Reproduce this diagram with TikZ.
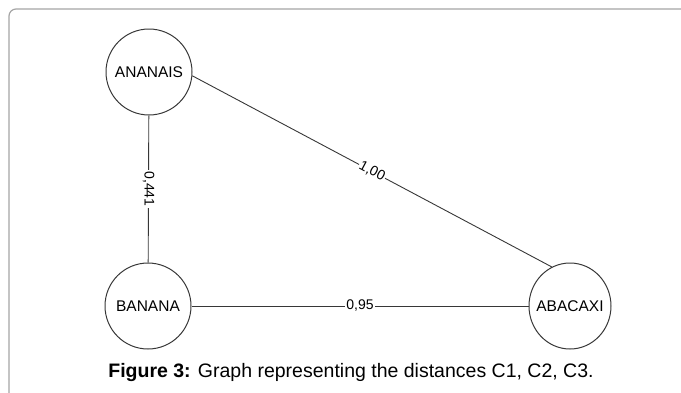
\documentclass[tikz,border=0pt]{standalone}
\usepackage{fontspec}
\setmainfont{Liberation Sans}
\usetikzlibrary{shapes.geometric}
\definecolor{framegray}{RGB}{165,165,165}
\definecolor{linegray}{RGB}{55,55,55}
\newcommand{\zw}[1]{\makebox[0pt]{#1}}
\begin{document}
\begin{tikzpicture}[x=1pt,y=-1pt,
  vertex/.style={draw=linegray,line width=1pt,ellipse,minimum width=86pt,minimum height=86pt,inner sep=0pt,font=\fontsize{15.5}{15.5}\selectfont},
  edge/.style={draw=linegray,line width=0.9pt},
  elabel/.style={fill=white,inner sep=1pt,font=\fontsize{14}{14}\selectfont}]
\useasboundingbox (0,0) rectangle (681,392);
\draw[framegray,line width=1.2pt,rounded corners=7pt] (9,420) -- (9,9) -- (700,9);
\node[vertex] (ananais) at (149,72) {\zw{ANANAIS}};
\node[vertex] (banana) at (148,306) {\zw{BANANA}};
\node[vertex,minimum width=82pt] (abacaxi) at (570,306) {\zw{ABACAXI}};
\draw[edge] (ananais) -- node[elabel,rotate=-90] {0,441} (banana);
\draw[edge] (ananais.-5) -- node[elabel,sloped] {1,00} (abacaxi.115);
\draw[edge] (banana) -- node[elabel] {0,95} (abacaxi);
\node[font=\fontsize{19.5}{19.5}\selectfont] (caption) at (351,372) {\textbf{Figure 3:} Graph representing the distances C1, C2, C3.};
\end{tikzpicture}
\end{document}
